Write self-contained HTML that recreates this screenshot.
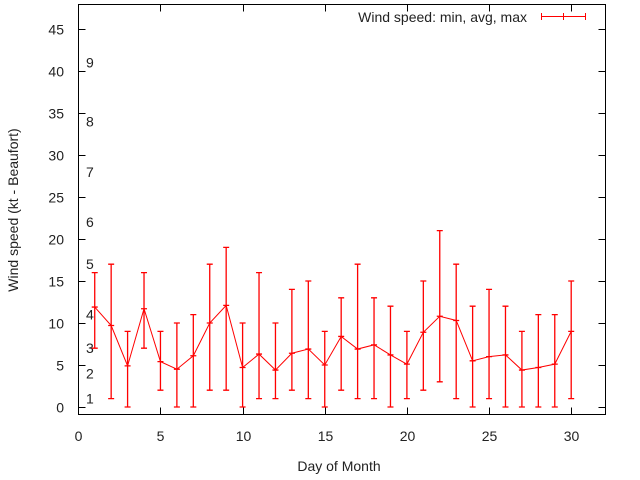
<!DOCTYPE html>
<html><head><meta charset="utf-8"><style>
body{margin:0;background:#fff}
svg{display:block;font-family:"Liberation Sans",sans-serif}
</style></head><body>
<svg id="chart" width="640" height="480" xmlns="http://www.w3.org/2000/svg">
<rect x="78.5" y="4.5" width="527" height="410" fill="none" stroke="#000" stroke-width="1"/>
<g id="axes"></g>
<g id="beaufort"></g>
<g id="series"></g>
<text x="339" y="471" font-size="14" text-anchor="middle" fill="#222">Day of Month</text>
<text transform="translate(18,210) rotate(-90)" font-size="14" text-anchor="middle" fill="#222">Wind speed (kt - Beaufort)</text>
<g>
<text x="527" y="22" font-size="14" text-anchor="end" fill="#222">Wind speed: min, avg, max</text>
<path d="M541.5 16.5H585.5M541.5 13v7M563.5 13v7M585.5 13v7" stroke="#f00" stroke-width="1"/>
</g>
</svg>
<script>
const days=[1,2,3,4,5,6,7,8,9,10,11,12,13,14,15,16,17,18,19,20,21,22,23,24,25,26,27,28,29,30];
const avgSpeed=[11.9,9.7,4.9,11.7,5.4,4.5,6.1,10.0,12.1,4.7,6.3,4.4,6.4,6.9,5.0,8.4,6.9,7.4,6.2,5.1,8.9,10.8,10.3,5.5,6.0,6.2,4.4,4.7,5.1,9.0];
const minSpeed=[7,1,0,7,2,0,0,2,2,0,1,1,2,1,0,2,1,1,0,1,2,3,1,0,1,0,0,0,0,1];
const maxSpeed=[16,17,9,16,9,10,11,17,19,10,16,10,14,15,9,13,17,13,12,9,15,21,17,12,14,12,9,11,11,15];
const xTicks=[0,5,10,15,20,25,30];
const yTicks=[0,5,10,15,20,25,30,35,40,45];
const beaufortLevels=[1,4,7,11,17,22,28,34,41];
const beaufortLabels=["1","2","3","4","5","6","7","8","9"];
const NS="http://www.w3.org/2000/svg";
const X=v=>78.3+v*16.43;
const Y=v=>407-v*8.4;
function mk(tag,attrs,parent,text){const e=document.createElementNS(NS,tag);for(const k in attrs)e.setAttribute(k,attrs[k]);if(text!==undefined)e.textContent=text;parent.appendChild(e);return e;}
const axes=document.getElementById('axes');
xTicks.forEach(t=>{const x=Math.round(X(t))+0.5;
 const p=mk('path',{d:`M${x} 414.5v-7M${x} 4.5v7`,stroke:'#000'},axes);
 
 
 const l=mk('text',{x:x,y:441,'font-size':14,'text-anchor':'middle',fill:'#222'},axes,String(t));
 
 });
yTicks.forEach(t=>{const y=Math.round(Y(t))+0.5;
 const p=mk('path',{d:`M78.5 ${y}h7M605.5 ${y}h-7`,stroke:'#000'},axes);
 
 
 const l=mk('text',{x:64,y:y+5,'font-size':14,'text-anchor':'end',fill:'#222'},axes,String(t));
 
 });
const bf=document.getElementById('beaufort');
beaufortLevels.forEach((v,i)=>{const l=mk('text',{x:86,y:Y(v)+5,'font-size':14,fill:'#222'},bf,beaufortLabels[i]);
 
 });
const s=document.getElementById('series');
const line=mk('polyline',{points:days.map((d,i)=>X(d)+','+Y(avgSpeed[i])).join(' '),fill:'none',stroke:'#f00','stroke-width':1},s);


days.forEach((d,i)=>{const x=X(d),y1=Y(minSpeed[i]),y2=Y(maxSpeed[i]),ya=Y(avgSpeed[i]);
 const p=mk('path',{d:`M${x} ${y1}V${y2}M${x-3} ${y1}h6M${x-3} ${y2}h6M${x-3} ${ya}h6`,stroke:'#f00','stroke-width':1.3,fill:'none'},s);
 
 });
</script>
</body></html>
